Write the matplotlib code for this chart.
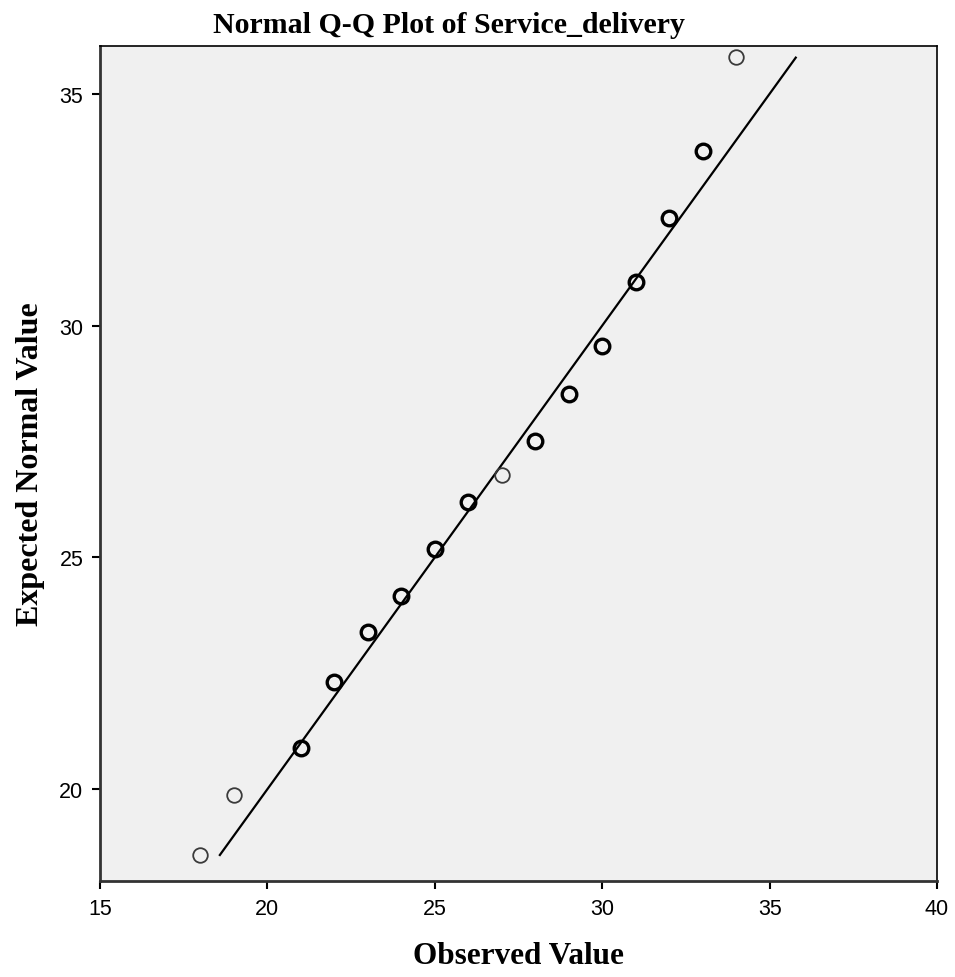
import matplotlib
matplotlib.use("Agg")
import matplotlib.pyplot as plt

# Q-Q plot data
observed = [18, 19, 21, 22, 23, 24, 25, 26, 27, 28, 29, 30, 31, 32, 33, 34]
expected = [18.58, 19.87, 20.88, 22.31, 23.40, 24.16, 25.17, 26.20,
            26.77, 27.52, 28.53, 29.57, 30.95, 32.33, 33.77, 35.80]
# points drawn with a heavy outline (repeated observations)
heavy = [False, False, True, True, True, True, True, True,
         False, True, True, True, True, True, True, False]

line_x = [18.58, 35.78]
line_y = [18.58, 35.78]

x_ticks = [15, 20, 25, 30, 35, 40]
y_ticks = [20, 25, 30, 35]

fig = plt.figure(figsize=(9.55, 9.78), dpi=100)
ax = fig.add_axes([0.1047, 0.0982, 0.8765, 0.8537])
ax.set_facecolor("#f0f0f0")

ax.plot(line_x, line_y, color="black", linewidth=1.6, zorder=2)

for x, y, h in zip(observed, expected, heavy):
    ax.plot(x, y, marker="o", linestyle="none", markersize=10.5,
            markerfacecolor="none",
            markeredgecolor="black" if h else "#3a3a3a",
            markeredgewidth=2.4 if h else 1.3, zorder=3)

ax.set_xlim(15, 40)
ax.set_ylim(18.02, 36.03)
ax.set_xticks(x_ticks)
ax.set_yticks(y_ticks)
ax.tick_params(direction="out", length=6, width=1.5, labelsize=15.5, pad=6)
for lab in ax.get_xticklabels() + ax.get_yticklabels():
    lab.set_family("Liberation Sans")

for side in ["top", "right"]:
    ax.spines[side].set_linewidth(1.2)
for side in ["left", "bottom"]:
    ax.spines[side].set_linewidth(2.0)
    ax.spines[side].set_color("#333333")

ax.set_title("Normal Q-Q Plot of Service_delivery", family="Liberation Serif",
             fontweight="bold", fontsize=21.5, pad=10, x=0.417)
ax.set_xlabel("Observed Value", family="Liberation Serif", fontweight="bold",
              fontsize=22.5, labelpad=16)
ax.set_ylabel("Expected Normal Value", family="Liberation Serif",
              fontweight="bold", fontsize=23)
ax.yaxis.set_label_coords(-0.066, 0.5)

fig.savefig("out.png", dpi=100)
